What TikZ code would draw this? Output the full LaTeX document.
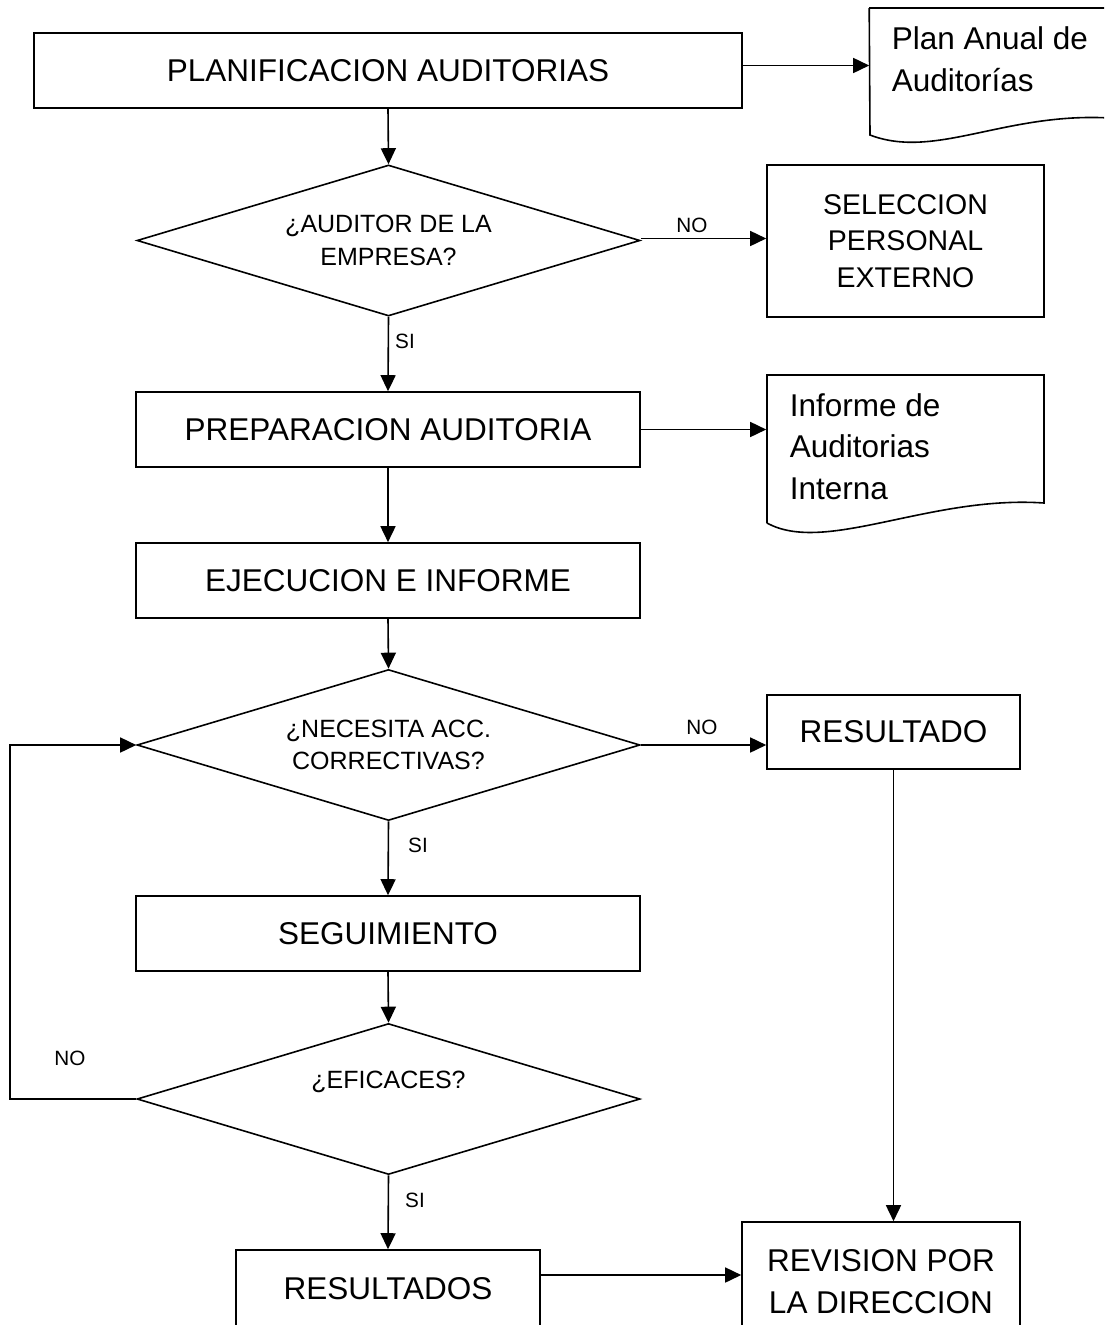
\documentclass[tikz,border=0pt]{standalone}
\usepackage{fontspec}
\setmainfont{Liberation Sans}
\usetikzlibrary{shapes.geometric,arrows.meta,calc}
\begin{document}
\begin{tikzpicture}[x=1pt,y=-1pt,
  line width=1.6pt,
  box/.style={draw, rectangle, inner sep=0pt, align=center, font=\fontsize{31.5}{42}\selectfont},
  smallbox/.style={draw, rectangle, inner sep=0pt, align=center, font=\fontsize{28.5}{36.5}\selectfont},
  dec/.style={draw, diamond, aspect=3.33, inner sep=0pt, align=center, minimum width=503pt, minimum height=151pt, font=\fontsize{25}{32}\selectfont},
  doctext/.style={anchor=west, align=left, inner sep=0pt, font=\fontsize{31.5}{41.5}\selectfont},
  lbl/.style={font=\fontsize{20.7}{24}\selectfont, inner sep=0pt},
  arr/.style={-{Triangle[length=16pt,width=15pt]}}]
\useasboundingbox (0,0) rectangle (1104,1325);
\clip (0,0) rectangle (1104,1325);

% nodes
\node[box, minimum width=708pt, minimum height=75pt] (plan) at (388,70.5) {PLANIFICACION AUDITORIAS};
\node[minimum width=240pt, minimum height=130pt, inner sep=0pt] (doca) at (990,72) {};
\node[dec] (d1) at (388.5,240.5) {\raisebox{1pt}{¿AUDITOR DE LA}\\EMPRESA?};
\node[smallbox, minimum width=277pt, minimum height=152pt] (sel) at (905.5,241) {SELECCION\\PERSONAL\\EXTERNO};
\node[box, minimum width=504pt, minimum height=75pt] (prep) at (388,429.5) {PREPARACION AUDITORIA};
\node[minimum width=277pt, minimum height=150pt, inner sep=0pt] (docb) at (905.5,450) {};
\node[box, minimum width=504pt, minimum height=75pt] (ejec) at (388,580.5) {EJECUCION E INFORME};
\node[dec] (d2) at (388.5,745) {¿NECESITA ACC.\\CORRECTIVAS?};
\node[box, minimum width=253pt, minimum height=74pt] (res1) at (893.5,732) {RESULTADO};
\node[box, minimum width=504pt, minimum height=75pt] (seg) at (388,933.5) {SEGUIMIENTO};
\node[dec] (d3) at (388.5,1099) {\raisebox{38pt}{¿EFICACES?}};
\node[box, minimum width=304pt, minimum height=80pt] (res2) at (388,1290) {\raisebox{3pt}{RESULTADOS}};
\node[box, minimum width=278pt, minimum height=120pt] (rev) at (881,1282) {REVISION POR\\LA DIRECCION};

% document shapes
\draw (doca.west |- 0,8) -- (1110,8);
\draw (doca.west |- 0,8) -- (870,135) .. controls (935,160) and (1005,112) .. (1110,118);
\draw (767,523) -- (767,375) -- (1044,375) -- (1044,503) .. controls (930,495) and (825,555) .. (767,523);
\node[doctext] (ta) at (891,59) {Plan Anual de\\Auditorías};
\node[doctext] (tb) at (789,446.5) {Informe de\\Auditorias\\Interna};

% connectors
\draw[arr] ([yshift=5pt]plan.east) -- ([yshift=5pt]plan.east -| doca.west);
\draw[arr] (plan.south) -- (d1.north);
\draw[arr] ([yshift=2pt]d1.east) -- ([yshift=2pt]d1.east -| sel.west);
\draw[arr] (d1.south) -- (prep.north);
\draw[arr] (prep.east) -- (prep.east -| docb.west);
\draw[arr] (prep.south) -- (ejec.north);
\draw[arr] (ejec.south) -- (d2.north);
\draw[arr] (d2.east) -- (d2.east -| res1.west);
\draw[arr] (d2.south) -- (seg.north);
\draw[arr] (seg.south) -- (d3.north);
\coordinate (loopc) at (10,1099);
\draw[arr] (d3.west) -- (loopc) |- (d2.west);
\draw[arr] (d3.south) -- (res2.north);
\draw[arr] (res1.south) -- (res1.south |- rev.north);
\draw[arr] ([yshift=15pt]res2.east) -- ([yshift=15pt]res2.east -| rev.west);

% labels
\node[lbl] (l1) at (692,225) {NO};
\node[lbl] (l2) at (405,341) {SI};
\node[lbl] (l3) at (702,727) {NO};
\node[lbl] (l4) at (418,845) {SI};
\node[lbl] (l5) at (70,1058) {NO};
\node[lbl] (l6) at (415,1200) {SI};
\end{tikzpicture}
\end{document}
